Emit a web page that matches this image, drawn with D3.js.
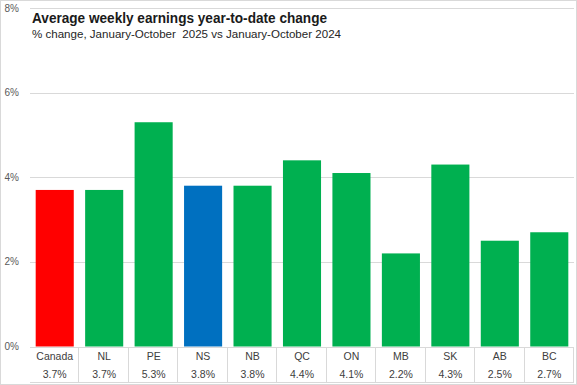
<!DOCTYPE html>
<html>
<head>
<meta charset="utf-8">
<script src="https://cdn.jsdelivr.net/npm/d3@7"></script>
<style>
  html, body { margin: 0; padding: 0; background: #fff; }
  svg { display: block; font-family: "Liberation Sans", Arial, sans-serif; }
</style>
</head>
<body>
<div id="chart"></div>
<script>
// chart data
var regions = ["Canada", "NL", "PE", "NS", "NB", "QC", "ON", "MB", "SK", "AB", "BC"];
var changes = [3.7, 3.7, 5.3, 3.8, 3.8, 4.4, 4.1, 2.2, 4.3, 2.5, 2.7];
var barColors = ["#ff0000", "#00b050", "#00b050", "#0070c0", "#00b050", "#00b050", "#00b050", "#00b050", "#00b050", "#00b050", "#00b050"];
var yTicks = [0, 2, 4, 6, 8];

var width = 577, height = 385;
var margin = { top: 8, right: 3, bottom: 38, left: 30 };

var svg = d3.select("#chart").append("svg")
    .attr("width", width)
    .attr("height", height);

// outer border
svg.append("rect")
    .attr("x", 0.5).attr("y", 0.5)
    .attr("width", width - 1).attr("height", height - 1)
    .attr("fill", "none")
    .attr("stroke", "#d9d9d9");

var x = d3.scaleBand()
    .domain(regions)
    .range([margin.left, width - margin.right])
    .paddingInner(0.23)
    .paddingOuter(0.115);

var xCell = d3.scaleBand()
    .domain(regions)
    .range([margin.left, width - margin.right]);

var y = d3.scaleLinear()
    .domain([0, 8])
    .range([height - margin.bottom - 0.5, margin.top]);

// gridlines
svg.append("g").attr("class", "grid")
    .selectAll("line")
    .data(yTicks)
    .enter()
    .append("line")
    .attr("x1", margin.left)
    .attr("x2", width - margin.right)
    .attr("y1", function (d) { return Math.round(y(d)) + 0.5; })
    .attr("y2", function (d) { return Math.round(y(d)) + 0.5; })
    .attr("stroke", "#d9d9d9");

// y tick labels
svg.append("g").attr("class", "ylabels")
    .selectAll("text")
    .data(yTicks)
    .enter()
    .append("text")
    .attr("x", 19)
    .attr("y", function (d) { return y(d); })
    .attr("dy", "0.35em")
    .attr("text-anchor", "end")
    .style("font-size", "10px")
    .style("fill", "#595959")
    .text(function (d) { return d + "%"; });

// bars
svg.append("g").attr("class", "bars")
    .selectAll("rect")
    .data(regions)
    .enter()
    .append("rect")
    .attr("x", function (d) { return x(d); })
    .attr("width", x.bandwidth())
    .attr("y", function (d, i) { return y(changes[i]); })
    .attr("height", function (d, i) { return y(0) - y(changes[i]); })
    .attr("fill", function (d, i) { return barColors[i]; });

// data table under the axis
var tableTop = Math.round(y(0)) + 0.5;
var tableBottom = height - 2.5;
var table = svg.append("g").attr("class", "table");

table.selectAll("line.sep")
    .data(regions.slice(1).concat(["end"]))
    .enter()
    .append("line")
    .attr("class", "sep")
    .attr("x1", function (d) { return d === "end" ? width - margin.right - 0.5 : Math.round(xCell(d)) - 0.5; })
    .attr("x2", function (d) { return d === "end" ? width - margin.right - 0.5 : Math.round(xCell(d)) - 0.5; })
    .attr("y1", tableTop)
    .attr("y2", tableBottom)
    .attr("stroke", "#d9d9d9");

table.append("line")
    .attr("x1", margin.left).attr("x2", width - margin.right)
    .attr("y1", tableBottom).attr("y2", tableBottom)
    .attr("stroke", "#d9d9d9");

table.selectAll("text.cat")
    .data(regions)
    .enter()
    .append("text")
    .attr("class", "cat")
    .attr("x", function (d) { return xCell(d) + xCell.bandwidth() / 2; })
    .attr("y", 356)
    .attr("dy", "0.35em")
    .attr("text-anchor", "middle")
    .style("font-size", "10.5px")
    .style("fill", "#404040")
    .text(function (d) { return d; });

table.selectAll("text.val")
    .data(regions)
    .enter()
    .append("text")
    .attr("class", "val")
    .attr("x", function (d) { return xCell(d) + xCell.bandwidth() / 2; })
    .attr("y", 374)
    .attr("dy", "0.35em")
    .attr("text-anchor", "middle")
    .style("font-size", "10.5px")
    .style("fill", "#404040")
    .text(function (d, i) { return changes[i].toFixed(1) + "%"; });

// titles
svg.append("text")
    .attr("x", 32)
    .attr("y", 23)
    .attr("textLength", 295)
    .attr("lengthAdjust", "spacingAndGlyphs")
    .style("font-size", "14.5px")
    .style("font-weight", "bold")
    .style("fill", "#1a1a1a")
    .text("Average weekly earnings year-to-date change");

svg.append("text")
    .attr("x", 32)
    .attr("y", 38)
    .attr("textLength", 309)
    .attr("lengthAdjust", "spacingAndGlyphs")
    .style("font-size", "11px")
    .style("white-space", "pre")
    .style("fill", "#262626")
    .text("% change, January-October  2025 vs January-October 2024");
</script>
</body>
</html>
